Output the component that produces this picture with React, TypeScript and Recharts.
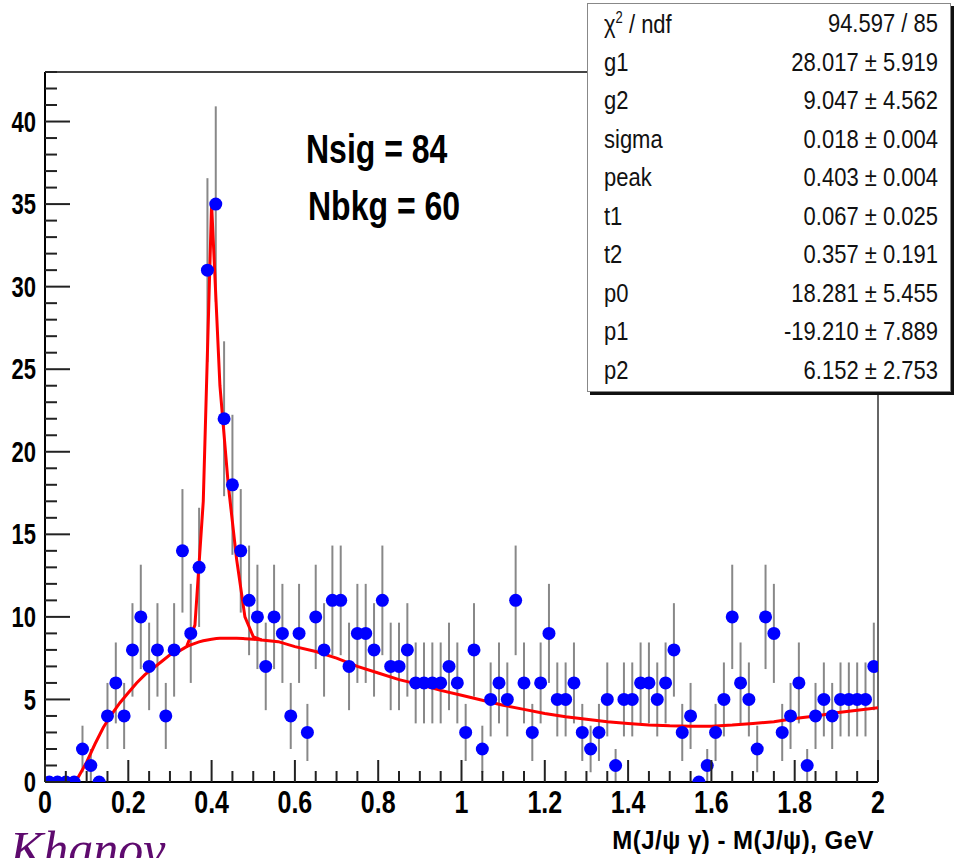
import React from "react";
import {
  ComposedChart,
  Scatter,
  Line,
  XAxis,
  YAxis,
  ErrorBar,
  ReferenceLine,
} from "recharts";

// histogram contents, 100 bins of 0.02 GeV from 0 to 2
const counts = [
  0, 0, 0, 0, 2, 1, 0, 4, 6, 4,
  8, 10, 7, 8, 4, 8, 14, 9, 13, 31,
  35, 22, 18, 14, 11, 10, 7, 10, 9, 4,
  9, 3, 10, 8, 11, 11, 7, 9, 9, 8,
  11, 7, 7, 8, 6, 6, 6, 6, 7, 6,
  3, 8, 2, 5, 6, 5, 11, 6, 3, 6,
  9, 5, 5, 6, 3, 2, 3, 5, 1, 5,
  5, 6, 6, 5, 6, 8, 3, 4, 0, 1,
  3, 5, 10, 6, 5, 2, 10, 9, 3, 4,
  6, 1, 4, 5, 4, 5, 5, 5, 5, 7,
];

const errors = [
  0, 0, 0, 0, 1.41, 1, 0, 2, 2.45, 2,
  2.83, 3.16, 2.65, 2.83, 2, 2.83, 3.74, 3, 3.61, 5.57,
  5.92, 4.69, 4.24, 3.74, 3.32, 3.16, 2.65, 3.16, 3, 2,
  3, 1.73, 3.16, 2.83, 3.32, 3.32, 2.65, 3, 3, 2.83,
  3.32, 2.65, 2.65, 2.83, 2.45, 2.45, 2.45, 2.45, 2.65, 2.45,
  1.73, 2.83, 1.41, 2.24, 2.45, 2.24, 3.32, 2.45, 1.73, 2.45,
  3, 2.24, 2.24, 2.45, 1.73, 1.41, 1.73, 2.24, 1, 2.24,
  2.24, 2.45, 2.45, 2.24, 2.45, 2.83, 1.73, 2, 0, 1,
  1.73, 2.24, 3.16, 2.45, 2.24, 1.41, 3.16, 3, 1.73, 2,
  2.45, 1, 2, 2.24, 2, 2.24, 2.24, 2.24, 2.24, 2.65,
];

const BIN_WIDTH = 0.02;

// fit curve (signal + background)
const fitX = [
  0, 0.06, 0.07, 0.08, 0.1, 0.12, 0.14, 0.16, 0.18, 0.2, 0.22, 0.24, 0.26,
  0.28, 0.3, 0.32, 0.34, 0.36, 0.38, 0.4, 0.42, 0.44, 0.46, 0.48, 0.5, 0.52,
  0.56, 0.6, 0.65, 0.7, 0.75, 0.8, 0.85, 0.9, 0.95, 1.0, 1.05, 1.1, 1.15, 1.2,
  1.25, 1.3, 1.35, 1.4, 1.45, 1.5, 1.55, 1.6, 1.65, 1.7, 1.75, 1.8, 1.85, 1.9,
  1.95, 2.0,
];
const fitY = [
  0, 0, 0, 0.3, 1.2, 2.3, 3.3, 4.1, 4.8, 5.4, 6.0, 6.5, 6.9,
  7.3, 7.7, 7.9, 8.2, 9.5, 17, 35, 24, 18, 13.5, 10, 8.8, 8.6,
  8.5, 8.2, 7.9, 7.5, 7.0, 6.6, 6.2, 5.9, 5.55, 5.25, 4.95, 4.65, 4.4, 4.15,
  3.95, 3.8, 3.65, 3.55, 3.45, 3.4, 3.38, 3.38, 3.45, 3.55, 3.65, 3.85, 4.0, 4.2,
  4.35, 4.5,
];

// background-only curve under the peak
const bkgX = [0.34, 0.36, 0.38, 0.4, 0.42, 0.44, 0.46, 0.48, 0.5, 0.52];
const bkgY = [8.2, 8.4, 8.55, 8.65, 8.7, 8.7, 8.7, 8.68, 8.65, 8.6];

const yMajor = [0, 5, 10, 15, 20, 25, 30, 35, 40];
const yTicks = Array.from({ length: 44 }, (_, i) => i);
const xMajor = [0, 0.2, 0.4, 0.6, 0.8, 1, 1.2, 1.4, 1.6, 1.8, 2];
const xLabels = ["0", "0.2", "0.4", "0.6", "0.8", "1", "1.2", "1.4", "1.6", "1.8", "2"];
const xTicks = Array.from({ length: 41 }, (_, i) => Math.round(i * 5) / 100);

const statNames = ["g1", "g2", "sigma", "peak", "t1", "t2", "p0", "p1", "p2"];
const statValues = [
  "28.017 ± 5.919",
  "9.047 ± 4.562",
  "0.018 ± 0.004",
  "0.403 ± 0.004",
  "0.067 ± 0.025",
  "0.357 ± 0.191",
  "18.281 ± 5.455",
  "-19.210 ± 7.889",
  "6.152 ± 2.753",
];

const points = counts.map((n, i) => ({ x: BIN_WIDTH * (i + 0.5), y: n, err: errors[i] }));
const fitLine = fitX.map((x, i) => ({ x, y: fitY[i] }));
const bkgLine = bkgX.map((x, i) => ({ x, y: bkgY[i] }));

const FONT = "'Liberation Sans', Arial, Helvetica, sans-serif";

function YTick(props: any) {
  const { x, y, payload } = props;
  const major = yMajor.includes(payload.value);
  return (
    <g>
      <line x1={x} x2={x + (major ? 25 : 12)} y1={y} y2={y} stroke="#222" strokeWidth={2} />
      {major && (
        <text
          transform={`translate(${x - 9},${y}) scale(1,1.3)`}
          textAnchor="end"
          dominantBaseline="central"
          fontSize={22}
          fontWeight="bold"
          fontFamily={FONT}
          fill="#000"
        >
          {payload.value}
        </text>
      )}
    </g>
  );
}

function XTick(props: any) {
  const { x, y, payload } = props;
  const idx = xMajor.findIndex((m) => Math.abs(m - payload.value) < 1e-6);
  const major = idx >= 0;
  return (
    <g>
      <line x1={x} x2={x} y1={y} y2={y - (major ? 22 : 11)} stroke="#222" strokeWidth={2} />
      {major && (
        <text
          transform={`translate(${x},${y + 8}) scale(1,1.25)`}
          textAnchor="middle"
          dy="0.72em"
          fontSize={25}
          fontWeight="bold"
          fontFamily={FONT}
          fill="#000"
        >
          {xLabels[idx]}
        </text>
      )}
    </g>
  );
}

const dot = (props: any) => <circle cx={props.cx} cy={props.cy} r={6.5} fill="#0000ff" />;

const row = {
  display: "flex",
  justifyContent: "space-between",
  height: 38.5,
  alignItems: "center",
  transform: "scaleY(1.2)",
} as const;

export default function App() {
  return (
    <div
      style={{
        position: "absolute",
        left: 0,
        top: 0,
        width: 954,
        height: 858,
        background: "#fff",
        overflow: "hidden",
        fontFamily: FONT,
      }}
    >
      <ComposedChart
        width={954}
        height={858}
        margin={{ top: 72, right: 76, bottom: 36, left: 0 }}
      >
        <XAxis
          type="number"
          dataKey="x"
          domain={[0, 2]}
          ticks={xTicks}
          interval={0}
          height={40}
          tickSize={0}
          tickMargin={0}
          tickLine={false}
          axisLine={{ stroke: "#000", strokeWidth: 2 }}
          tick={<XTick />}
          allowDataOverflow
        />
        <YAxis
          type="number"
          domain={[0, 43]}
          ticks={yTicks}
          interval={0}
          width={45}
          tickSize={0}
          tickMargin={0}
          tickLine={false}
          axisLine={{ stroke: "#000", strokeWidth: 2 }}
          tick={<YTick />}
          allowDataOverflow
        />
        <ReferenceLine y={43} stroke="#444" strokeWidth={2} />
        <ReferenceLine x={2} stroke="#666" strokeWidth={2} />
        <Scatter data={points} dataKey="y" shape={dot} isAnimationActive={false}>
          <ErrorBar dataKey="err" direction="y" width={0} stroke="#888" strokeWidth={2} />
        </Scatter>
        <Line
          data={bkgLine}
          dataKey="y"
          type="monotone"
          stroke="#ff0000"
          strokeWidth={3}
          dot={false}
          activeDot={false}
          isAnimationActive={false}
        />
        <Line
          data={fitLine}
          dataKey="y"
          type="linear"
          stroke="#ff0000"
          strokeWidth={3}
          dot={false}
          activeDot={false}
          isAnimationActive={false}
        />
      </ComposedChart>

      {/* fit result annotations */}
      <div
        style={{
          position: "absolute",
          left: 306,
          top: 127,
          fontSize: 32,
          fontWeight: "bold",
          transform: "scaleY(1.25)",
          transformOrigin: "left top",
          lineHeight: "36px",
          whiteSpace: "nowrap",
        }}
      >
        <div>Nsig = 84</div>
        <div style={{ marginLeft: 2, marginTop: 9 }}>Nbkg = 60</div>
      </div>

      {/* stats box */}
      <div
        style={{
          position: "absolute",
          left: 587,
          top: 3,
          width: 364,
          height: 389,
          background: "#fff",
          border: "1px solid #888",
          boxShadow: "3px 3px 0 #111",
          boxSizing: "border-box",
          padding: "1px 12px 0 16px",
          fontSize: 22,
          color: "#111",
        }}
      >
        <div style={row}>
          <span>
            χ<sup style={{ fontSize: 13 }}>2</sup> / ndf
          </span>
          <span>94.597 / 85</span>
        </div>
        {statNames.map((n, i) => (
          <div key={n} style={row}>
            <span>{n}</span>
            <span>{statValues[i]}</span>
          </div>
        ))}
      </div>

      {/* axis title */}
      <div
        style={{
          position: "absolute",
          right: 954 - 874,
          top: 826,
          fontSize: 24,
          fontWeight: "bold",
          letterSpacing: 0.5,
          transform: "scaleY(1.05)",
          transformOrigin: "right top",
          whiteSpace: "nowrap",
        }}
      >
        M(J/ψ γ) - M(J/ψ), GeV
      </div>

      <div
        style={{
          position: "absolute",
          left: 10,
          top: 820,
          fontFamily: "'Liberation Serif', 'Times New Roman', serif",
          fontStyle: "italic",
          fontSize: 50,
          color: "#5e0a6e",
          whiteSpace: "nowrap",
        }}
      >
        Khanov
      </div>
    </div>
  );
}
